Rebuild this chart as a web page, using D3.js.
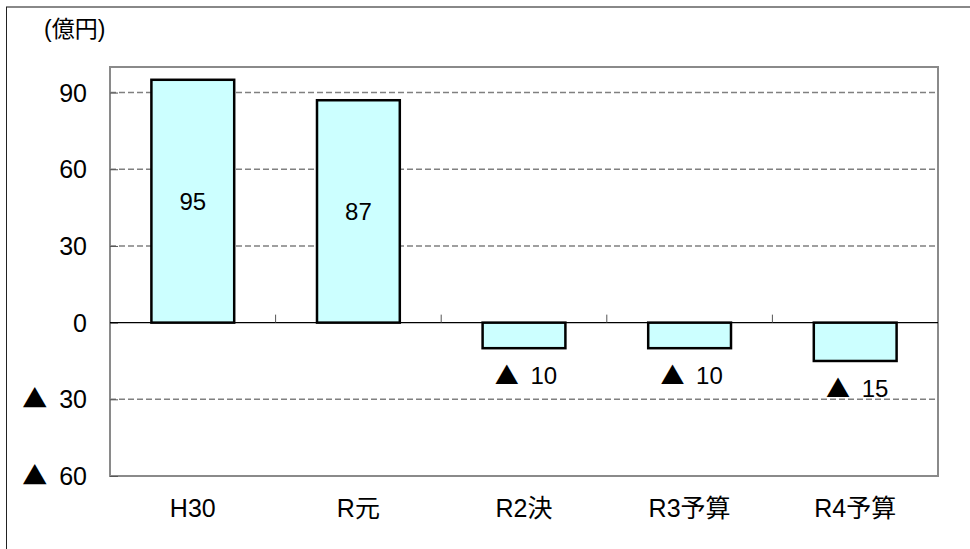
<!DOCTYPE html>
<html>
<head>
<meta charset="utf-8">
<script src="https://cdn.jsdelivr.net/npm/d3@7"></script>
<style>
  body { margin: 0; background: #fff; }
  svg { display: block; font-family: "Liberation Sans", Arial, "Noto Sans CJK JP", sans-serif; }
  .tri { font-family: "Noto Sans CJK JP", sans-serif; }
</style>
</head>
<body>
<div id="main"></div>
<script>
// values (億円), negatives shown with ▲
var categories = ["H30", "R元", "R2決", "R3予算", "R4予算"];
var values = [95, 87, -10, -10, -15];
var yTicks = [-60, -30, 0, 30, 60, 90];
var gridTicks = [-30, 30, 60, 90];
var unitLabel = "(億円)";

// writes "▲ n" for negatives, with a full-width triangle
function writeValue(sel) {
    sel.each(function(v) {
        var t = d3.select(this);
        if (v < 0) {
            t.append("tspan").attr("class", "tri").text("\u25B2");
            t.append("tspan").attr("dx", 5).text(" " + Math.abs(v));
        } else {
            t.text(String(v));
        }
    });
}

var width = 970, height = 549;
var plot = { left: 110, right: 938, top: 67, bottom: 476 };

var svg = d3.select("#main")
    .append("svg")
    .attr("width", width)
    .attr("height", height);

// outer frame (runs off the right and bottom edges)
svg.append("line")
    .attr("x1", 6).attr("x2", width).attr("y1", 7).attr("y2", 7)
    .attr("stroke", "#888").attr("stroke-width", 2);
svg.append("line")
    .attr("x1", 6.5).attr("x2", 6.5).attr("y1", 7).attr("y2", height)
    .attr("stroke", "#222").attr("stroke-width", 1);

var x = d3.scaleBand()
    .domain(categories)
    .range([plot.left, plot.right])
    .padding(0);

var y = d3.scaleLinear()
    .domain([-60, 100])
    .range([plot.bottom, plot.top]);

// dashed grid
svg.append("g")
    .selectAll("line")
    .data(gridTicks)
    .enter()
    .append("line")
    .attr("x1", plot.left).attr("x2", plot.right)
    .attr("y1", function(d) { return y(d); })
    .attr("y2", function(d) { return y(d); })
    .attr("stroke", "#808080")
    .attr("stroke-width", 1.5)
    .attr("stroke-dasharray", "6,3");

// plot frame
svg.append("rect")
    .attr("x", plot.left).attr("y", plot.top)
    .attr("width", plot.right - plot.left)
    .attr("height", plot.bottom - plot.top)
    .attr("fill", "none")
    .attr("stroke", "#8a8a8a")
    .attr("stroke-width", 2);

// y axis: inward ticks, labels drawn separately for the ▲ format
var yAxis = d3.axisLeft(y).tickValues(yTicks).tickSize(-8).tickFormat("");
var yg = svg.append("g")
    .attr("transform", "translate(" + plot.left + ",0)")
    .call(yAxis);
yg.select(".domain").remove();
yg.selectAll(".tick line").attr("stroke", "#555");

svg.append("g")
    .selectAll("text")
    .data(yTicks)
    .enter()
    .append("text")
    .attr("x", 87)
    .attr("y", function(d) { return y(d); })
    .attr("dy", "0.36em")
    .attr("text-anchor", "end")
    .attr("font-size", 25)
    .attr("fill", "#000")
    .call(writeValue);

svg.append("text")
    .attr("x", 44)
    .attr("y", 37)
    .attr("font-size", 23)
    .text(unitLabel);

// bars
var barW = x.bandwidth() * 0.5;
svg.append("g")
    .selectAll("rect")
    .data(values)
    .enter()
    .append("rect")
    .attr("x", function(d, i) { return x(categories[i]) + (x.bandwidth() - barW) / 2; })
    .attr("y", function(d) { return y(Math.max(0, d)); })
    .attr("width", barW)
    .attr("height", function(d) { return Math.abs(y(d) - y(0)); })
    .attr("fill", "#ccffff")
    .attr("stroke", "#000")
    .attr("stroke-width", 2.5);

// zero line with category separators
svg.append("line")
    .attr("x1", plot.left).attr("x2", plot.right)
    .attr("y1", y(0)).attr("y2", y(0))
    .attr("stroke", "#000").attr("stroke-width", 1.2);

svg.append("g")
    .selectAll("line")
    .data(categories.slice(1))
    .enter()
    .append("line")
    .attr("x1", function(d) { return x(d); })
    .attr("x2", function(d) { return x(d); })
    .attr("y1", y(0)).attr("y2", y(0) - 8)
    .attr("stroke", "#555").attr("stroke-width", 1);

// value labels
svg.append("g")
    .selectAll("text")
    .data(values)
    .enter()
    .append("text")
    .attr("x", function(d, i) { return x(categories[i]) + x.bandwidth() / 2 + (d < 0 ? 2 : 0); })
    .attr("y", function(d) { return d >= 0 ? (y(d) + y(0)) / 2 : y(d) + 27; })
    .attr("dy", "0.36em")
    .attr("text-anchor", "middle")
    .attr("font-size", 24)
    .call(writeValue);

// category labels
svg.append("g")
    .selectAll("text")
    .data(categories)
    .enter()
    .append("text")
    .attr("x", function(d) { return x(d) + x.bandwidth() / 2; })
    .attr("y", 517)
    .attr("text-anchor", "middle")
    .attr("font-size", 25)
    .text(function(d) { return d; });
</script>
</body>
</html>
